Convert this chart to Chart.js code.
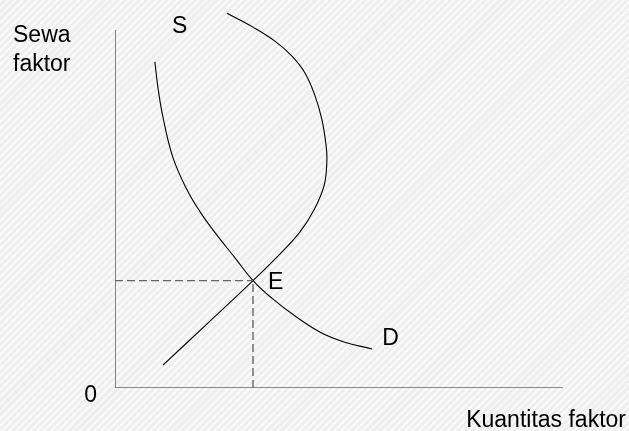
<!DOCTYPE html>
<html>
<head>
<meta charset="utf-8">
<script src="https://cdn.jsdelivr.net/npm/chart.js@4.4.0/dist/chart.umd.min.js"></script>
<style>
  html, body { margin:0; padding:0; }
  body {
    width:629px; height:431px; overflow:hidden;
    background-color:#f3f3f3;
    background-image: repeating-linear-gradient(135deg, rgba(255,255,255,0.55) 0 2px, rgba(230,230,230,0.35) 2px 5px);
  }
  canvas { display:block; }
</style>
</head>
<body>
<canvas id="chart" width="629" height="431"></canvas>
<script>
// curves in chart units (x: quantity 0-100, y: rent 0-100)
const demandX = [8.9, 9.6, 10.7, 12.9, 16.1, 19.0, 21.9, 27.0, 30.8, 35.0, 40.2, 45.8, 51.3, 57.4];
const demandY = [91.1, 83.8, 75.7, 64.5, 55.3, 49.2, 44.1, 36.0, 30.0, 25.1, 20.1, 15.6, 12.8, 10.9];
const supplyX = [10.7, 20.8, 30.8, 36.8, 41.3, 44.4, 46.7, 47.3, 47.1, 46.2, 44.6, 42.4, 39.5, 35.7, 30.8, 25.0];
const supplyY = [6.4, 18.2, 30.0, 37.4, 43.6, 49.7, 56.7, 63.7, 67.9, 74.9, 81.8, 88.0, 92.7, 96.9, 100.8, 104.7];
const equilibrium = { x: 30.8, y: 30.0 };
const axisMax = 100;

const pts = (xs, ys) => xs.map((x, i) => ({ x, y: ys[i] }));
const font = '23px "Liberation Sans", Arial, sans-serif';

// text labels drawn next to the scale positions
const labelPlugin = {
  id: 'labels',
  afterDatasetsDraw(chart) {
    const c = chart.ctx, sx = chart.scales.x, sy = chart.scales.y;
    const px = v => sx.getPixelForValue(v), py = v => sy.getPixelForValue(v);
    c.save();
    c.fillStyle = '#000';
    c.font = font;
    c.textBaseline = 'alphabetic';
    c.textAlign = 'left';
    c.fillText('Sewa', px(0) - 102, py(axisMax) + 12);
    c.fillText('faktor', px(0) - 102, py(axisMax) + 41);
    const sTop = supplyX.length - 1;
    c.fillText('S', px(supplyX[sTop]) - 55, py(supplyY[sTop]) + 20);
    c.fillText('E', px(equilibrium.x) + 15, py(equilibrium.y) + 8);
    const dEnd = demandX.length - 1;
    c.fillText('D', px(demandX[dEnd]) + 10, py(demandY[dEnd]) - 4);
    c.textAlign = 'right';
    c.fillText('0', px(0) - 18, py(0) + 14);
    c.fillText('Kuantitas faktor', px(axisMax) + 63, py(0) + 39);
    c.restore();
  }
};

new Chart(document.getElementById('chart').getContext('2d'), {
  type: 'scatter',
  data: {
    datasets: [
      { data: [{x:0, y:0}, {x:axisMax, y:0}], borderColor:'#666', borderWidth:1.6 },
      { data: [{x:0, y:0}, {x:0, y:axisMax}], borderColor:'#666', borderWidth:1.6 },
      { data: [{x:0, y:equilibrium.y}, equilibrium], borderColor:'#666', borderWidth:1.4, borderDash:[8,4] },
      { data: [{x:equilibrium.x, y:0}, equilibrium], borderColor:'#666', borderWidth:1.4, borderDash:[8,4] },
      { data: pts(demandX, demandY), borderColor:'#000', borderWidth:1.1, tension:0.4 },
      { data: pts(supplyX, supplyY), borderColor:'#000', borderWidth:1.1, tension:0.4, clip:false }
    ].map(d => Object.assign({ showLine:true, pointRadius:0, fill:false }, d))
  },
  options: {
    responsive: false,
    animation: false,
    layout: { padding: { left:115, right:66, top:30, bottom:43 } },
    plugins: { legend:{ display:false }, tooltip:{ enabled:false } },
    scales: {
      x: { type:'linear', min:0, max:axisMax, display:false },
      y: { type:'linear', min:0, max:axisMax, display:false }
    }
  },
  plugins: [labelPlugin]
});
</script>
</body>
</html>
